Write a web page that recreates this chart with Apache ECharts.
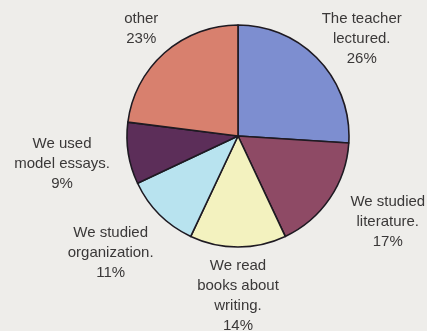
<!DOCTYPE html>
<html>
<head>
<meta charset="utf-8">
<script src="https://cdn.jsdelivr.net/npm/echarts@6/dist/echarts.min.js"></script>
<style>
  html, body { margin: 0; padding: 0; background: #eeedea; }
  #chart { width: 427px; height: 331px; }
</style>
</head>
<body>
<div id="chart"></div>
<script>
// What happened in writing class (share of responses)
const categories = [
  'The teacher\nlectured.',
  'We studied\nliterature.',
  'We read\nbooks about\nwriting.',
  'We studied\norganization.',
  'We used\nmodel essays.',
  'other'
];
const values = [26, 17, 14, 11, 9, 23];
const sliceColors = ['#7d8ed0', '#8e4a65', '#f3f2bf', '#b8e3ef', '#5c2e59', '#d8806e'];

const center = [238, 136];
const radius = 111;
const labelGap = 9;
// small hand nudges of each label block, in px
const labelNudge = [[0, 19], [11, -8], [0, 0], [-6, -4], [-6, 1], [0, 3]];
const labelFont = '15px "Liberation Sans", Arial, sans-serif';
const lineHeight = 20;

const total = values.reduce((a, b) => a + b, 0);
// mid-angle of every slice, measured clockwise from 12 o'clock
const midAngles = [];
let acc = 0;
values.forEach(v => {
  midAngles.push((acc + v / 2) / total * 2 * Math.PI);
  acc += v;
});

// size of each label block, measured with the label font
const ctx = document.createElement('canvas').getContext('2d');
ctx.font = labelFont;
const labelSizes = categories.map((c, i) => {
  const lines = (c + '\n' + values[i] + '%').split('\n');
  const w = Math.max(...lines.map(l => ctx.measureText(l).width));
  return { w: w, h: lines.length * lineHeight };
});

const chart = echarts.init(document.getElementById('chart'), null, { renderer: 'canvas' });
chart.setOption({
  backgroundColor: '#eeedea',
  animation: false,
  series: [{
    type: 'pie',
    center: center,
    radius: radius,
    startAngle: 90,
    clockwise: true,
    data: categories.map((c, i) => ({
      name: c,
      value: values[i],
      itemStyle: { color: sliceColors[i] }
    })),
    itemStyle: { borderColor: '#1e1a22', borderWidth: 1.6 },
    label: {
      show: true,
      position: 'outside',
      formatter: p => p.name + '\n' + p.value + '%',
      fontFamily: '"Liberation Sans", Arial, sans-serif',
      fontSize: 15,
      lineHeight: lineHeight,
      color: '#3a3838',
      align: 'center',
      width: 160,
      overflow: 'none'
    },
    labelLine: { show: false },
    labelLayout: params => {
      const i = params.dataIndex;
      const a = midAngles[i];
      const ux = Math.sin(a), uy = -Math.cos(a);
      const { w, h } = labelSizes[i];
      const ext = Math.abs(ux) * w / 2 + Math.abs(uy) * h / 2;
      const d = radius + labelGap + ext;
      return {
        x: center[0] + ux * d + labelNudge[i][0],
        y: center[1] + uy * d + labelNudge[i][1],
        align: 'center',
        verticalAlign: 'middle'
      };
    }
  }]
});
</script>
</body>
</html>
